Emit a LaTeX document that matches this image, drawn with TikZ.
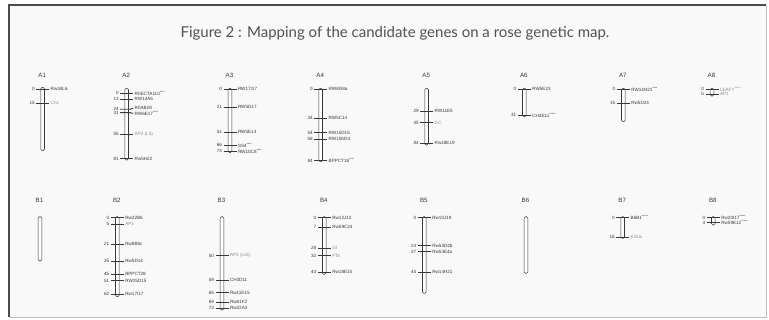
\documentclass[tikz,border=0pt]{standalone}
\usepackage{fontspec}
\setmainfont{Liberation Sans}
\newfontfamily\titlefont{Lato}
\definecolor{ink}{gray}{0.22}
\definecolor{candgray}{gray}{0.55}
\definecolor{paper}{gray}{0.975}
\newcommand\chromo[5]{%
  \node[bar, minimum height={#4pt-#3pt}] (#1) at (#2,{(#3+#4)/2}) {};
  \node[chrlab] (#1lab) at ({#2-0.5},#5) {#1};}
\newcommand\mrk[6]{%
  \draw[tickline] ({#2-6.5},#3) -- ({#2+6.5},#3);
  \node[num] (#1n#4) at ({#2-7.8},#3) {#4};
  \node[#6] (#1g#4) at ({#2+7.8},#3) {#5};}
\newcommand\mrkk[7]{%
  \draw[tickline] ({#2-6.5},#3) -- ({#2+3.5},#3) -- ({#2+6.5},#7);
  \node[num] (#1n#4) at ({#2-7.8},#3) {#4};
  \node[#6] (#1g#4) at ({#2+7.8},#7) {#5};}
\begin{document}
\begin{tikzpicture}[x=1pt,y=-1pt,
  font=\fontsize{4.6}{5}\selectfont,
  bar/.style={draw=ink, line width=0.55pt, fill=white, rounded corners=1.4pt,
    minimum width=3.6pt, inner sep=0pt},
  tickline/.style={line width=0.9pt, draw=ink},
  num/.style={anchor=east, inner sep=0pt, text=ink},
  gene/.style={anchor=west, inner sep=0pt, text=ink},
  cand/.style={anchor=west, inner sep=0pt, text=candgray},
  chrlab/.style={font=\fontsize{6.2}{7}\selectfont, text=ink, inner sep=0pt}]
\useasboundingbox (0,0) rectangle (769,320);
\fill[white] (0,0) rectangle (769,320);
\fill[paper] (9,5) rectangle (766,317);
\draw[black!25, line width=0.8pt] (766,5) -- (766,317) -- (9,317);
\draw[black!70, line width=1.6pt] (9,317) -- (9,5) -- (766,5);
\node[font=\titlefont\fontsize{15}{17}\selectfont, text=black!68, inner sep=0pt] (title) at (395,33)
  {Figure 2 : Mapping of the candidate genes on a rose genetic map.};
% ---------- A row ----------
\chromo{A1}{42.7}{87.3}{150.7}{75.5}
\mrk{A1}{42.7}{89.3}{0}{Rw34L6}{gene}
\mrk{A1}{42.7}{103.3}{15}{Chs}{cand}
\chromo{A2}{126.7}{88.3}{160}{75.5}
\mrk{A2}{126.7}{93.3}{0}{RhECTA110\textsuperscript{****}}{gene}
\mrk{A2}{126.7}{99.3}{13}{RW14A5}{gene}
\mrkk{A2}{126.7}{109.3}{24}{RhAB28}{gene}{108.2}
\mrkk{A2}{126.7}{112.7}{31}{RW6E17\textsuperscript{****}}{gene}{113.4}
\mrk{A2}{126.7}{134}{55}{AP2 (L5)}{cand}
\mrk{A2}{126.7}{158.7}{81}{Rw5H22}{gene}
\chromo{A3}{230}{88.3}{152.7}{75.5}
\mrk{A3}{230}{89.3}{0}{RW17I17}{gene}
\mrk{A3}{230}{107.3}{21}{RW5D17}{gene}
\mrk{A3}{230}{132}{51}{RW5E13}{gene}
\mrk{A3}{230}{145.3}{66}{SS4\textsuperscript{****}}{gene}
\mrk{A3}{230}{151}{74}{RW10C8\textsuperscript{****}}{gene}
\chromo{A4}{320.7}{88.3}{161.7}{75.5}
\mrk{A4}{320.7}{89.3}{0}{RW8G8a}{gene}
\mrk{A4}{320.7}{118.3}{34}{RW5C14}{gene}
\mrk{A4}{320.7}{132.7}{54}{RW15D15}{gene}
\mrk{A4}{320.7}{139.3}{58}{RW10M24}{gene}
\mrk{A4}{320.7}{160.7}{84}{BPPCT18\textsuperscript{****}}{gene}
\chromo{A5}{426.7}{88.3}{145}{75.5}
\mrk{A5}{426.7}{111.3}{29}{RW11E5}{gene}
\mrk{A5}{426.7}{122.7}{45}{GC}{cand}
\mrk{A5}{426.7}{143.3}{84}{Rw18E19}{gene}
\chromo{A6}{524.3}{88.3}{116.7}{75.5}
\mrk{A6}{524.3}{89.3}{0}{RW5E23}{gene}
\mrk{A6}{524.3}{115.3}{31}{CH3E11\textsuperscript{*****}}{gene}
\chromo{A7}{623.3}{88.3}{121.7}{75.5}
\mrk{A7}{623.3}{89.3}{0}{RW14H21\textsuperscript{****}}{gene}
\mrk{A7}{623.3}{103.3}{15}{Rw5D24}{gene}
\chromo{A8}{712}{88.3}{96}{75.5}
\mrk{A8}{712}{89.3}{0}{LEAFY\textsuperscript{*****}}{cand}
\mrk{A8}{712}{94.3}{5}{AP1}{cand}
% ---------- B row ----------
\chromo{B1}{40}{216.7}{261}{200}
\chromo{B2}{117.3}{216.7}{296.7}{200}
\mrk{B2}{117.3}{217.7}{0}{Rw22B6}{gene}
\mrk{B2}{117.3}{224.3}{5}{AP1}{cand}
\mrk{B2}{117.3}{244.3}{21}{Rw8B6c}{gene}
\mrk{B2}{117.3}{261.3}{35}{Rw5D14}{gene}
\mrk{B2}{117.3}{274}{45}{BPPCT28}{gene}
\mrk{B2}{117.3}{280.7}{51}{RW15D15}{gene}
\mrk{B2}{117.3}{294.3}{62}{Rw17I17}{gene}
\chromo{B3}{222}{216.7}{310}{200}
\mrk{B3}{222}{255.7}{50}{AP2 (cv5)}{cand}
\mrk{B3}{222}{280.3}{59}{CH3D11}{gene}
\mrk{B3}{222}{292.7}{65}{Rw11E15}{gene}
\mrk{B3}{222}{302.3}{69}{Rw61F2}{gene}
\mrk{B3}{222}{308.3}{73}{Rw22A3}{gene}
\chromo{B4}{324.3}{216.7}{274.3}{200}
\mrk{B4}{324.3}{217.7}{0}{Rw12J12}{gene}
\mrk{B4}{324.3}{227.3}{7}{Rw59C24}{gene}
\mrk{B4}{324.3}{248.3}{28}{GI}{cand}
\mrk{B4}{324.3}{255.7}{32}{FTa}{cand}
\mrk{B4}{324.3}{272.3}{44}{Rw18E15}{gene}
\chromo{B5}{424.3}{216.7}{293.3}{200}
\mrk{B5}{424.3}{217.7}{0}{Rw10J19}{gene}
\mrk{B5}{424.3}{245.7}{24}{Rw53D4b}{gene}
\mrk{B5}{424.3}{251.7}{27}{Rw53E4a}{gene}
\mrk{B5}{424.3}{272.3}{44}{Rw14H21}{gene}
\chromo{B6}{526}{216.7}{273.3}{200}
\chromo{B7}{622.7}{216.7}{238.3}{200}
\mrk{B7}{622.7}{217.7}{0}{B6B1\textsuperscript{*****}}{gene}
\mrk{B7}{622.7}{237.3}{16}{KGuv}{cand}
\chromo{B8}{713.3}{216.7}{225}{200}
\mrk{B8}{713.3}{217.7}{0}{Rw20I17\textsuperscript{*****}}{gene}
\mrk{B8}{713.3}{222.7}{3}{Rw59E12\textsuperscript{*****}}{gene}
\end{tikzpicture}
\end{document}
